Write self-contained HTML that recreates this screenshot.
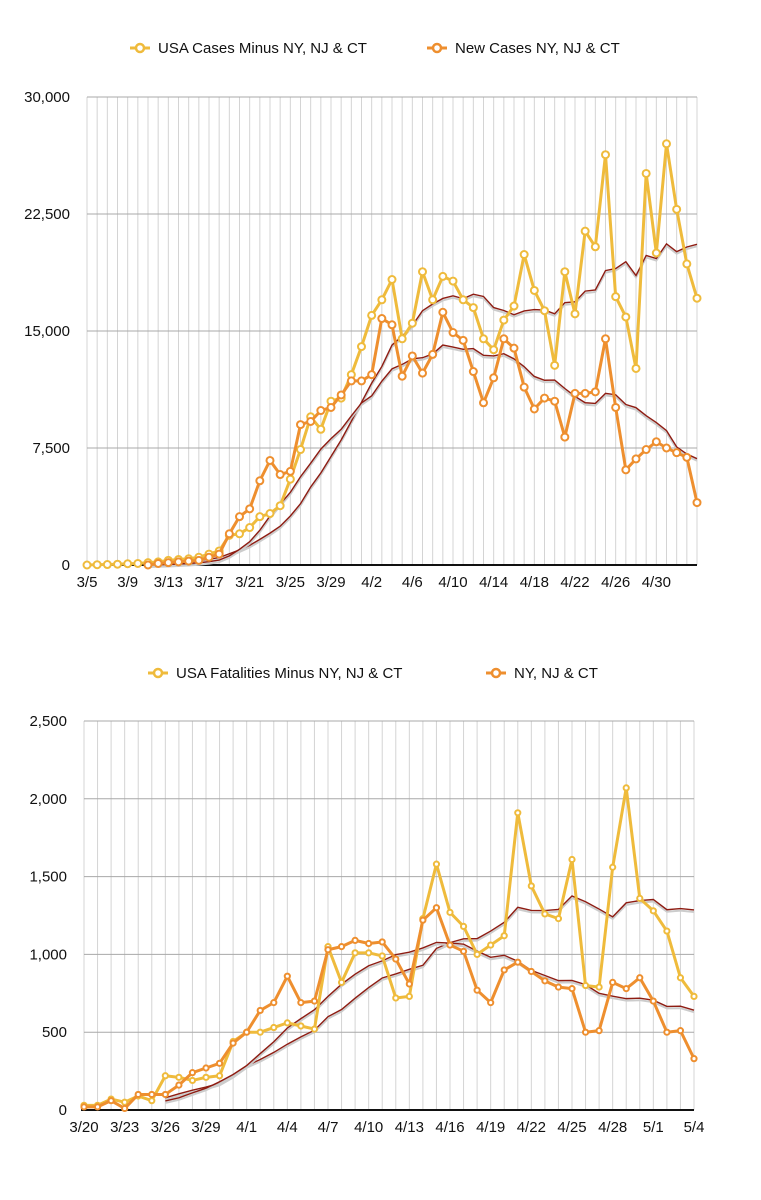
<!DOCTYPE html>
<html><head><meta charset="utf-8"><style>
body{margin:0;background:#fff;font-family:"Liberation Sans",Arial,sans-serif}
svg{display:block}
</style></head><body>
<svg id="svg" width="761" height="1200" xmlns="http://www.w3.org/2000/svg"></svg>
<script>
// ---- Chart 1 data (3/5 .. 5/4); null = no point
const c1Usa = [0,20,30,50,80,100,150,200,300,350,400,500,700,900,1900,2000,2400,3100,3300,3800,5500,7400,9500,8700,10500,10700,12200,14000,16000,17000,18300,14500,15500,18800,17000,18500,18200,17000,16500,14500,13800,15700,16600,19900,17600,16300,12800,18800,16100,21400,20400,26300,17200,15900,12600,25100,20000,27000,22800,19300,17100];
const c1Ny = [null,null,null,null,null,null,0,100,150,200,250,300,500,700,2000,3100,3600,5400,6700,5800,6000,9000,9200,9900,10100,10900,11800,11800,12200,15800,15400,12100,13400,12300,13500,16200,14900,14400,12400,10400,12000,14500,13900,11400,10000,10700,10500,8200,11000,11000,11100,14500,10100,6100,6800,7400,7900,7500,7200,6900,4000];
const c1YTicks = [0,7500,15000,22500,30000];
const c1YLabels = ["0","7,500","15,000","22,500","30,000"];
const c1XLabels = ["3/5","3/9","3/13","3/17","3/21","3/25","3/29","4/2","4/6","4/10","4/14","4/18","4/22","4/26","4/30"];
// ---- Chart 2 data (3/20 .. 5/4)
const c2Usa = [30,30,70,50,90,60,220,210,190,210,220,440,500,500,530,560,540,520,1050,820,1010,1010,990,720,730,1230,1580,1270,1180,1000,1060,1120,1910,1440,1260,1230,1610,800,790,1560,2070,1360,1280,1150,850,730];
const c2Ny = [20,20,60,10,100,100,100,160,240,270,300,430,500,640,690,860,690,700,1030,1050,1090,1070,1080,970,810,1220,1300,1060,1020,770,690,900,950,890,830,790,780,500,510,820,780,850,700,500,510,330];
const c2YTicks = [0,500,1000,1500,2000,2500];
const c2YLabels = ["0","500","1,000","1,500","2,000","2,500"];
const c2XLabels = ["3/20","3/23","3/26","3/29","4/1","4/4","4/7","4/10","4/13","4/16","4/19","4/22","4/25","4/28","5/1","5/4"];

const NS="http://www.w3.org/2000/svg";
const svg=document.getElementById('svg');
function mk(tag,attrs,parent){const e=document.createElementNS(NS,tag);for(const k in attrs)e.setAttribute(k,attrs[k]);(parent||svg).appendChild(e);return e;}
function ma(arr,startIdx){const out=[];for(let i=startIdx;i<arr.length;i++){let s=0;for(let j=i-6;j<=i;j++)s+=(arr[j]||0);out.push([i,s/7]);}return out;}

function chart(cfg){
  const g=mk('g',{});
  
  
  const n=cfg.usa.length;
  const xs=i=>cfg.x0+(cfg.x1-cfg.x0)*i/(n-1);
  const ys=v=>cfg.y0-(cfg.y0-cfg.y1)*v/cfg.ymax;
  for(let i=0;i<n;i++){const l=mk('line',{x1:xs(i),x2:xs(i),y1:cfg.y1,y2:cfg.y0,stroke:'#d4d4d4','stroke-width':1},g);
    }
  cfg.yt.forEach((t,k)=>{
    if(t>0){const l=mk('line',{x1:cfg.x0,x2:cfg.x1,y1:ys(t),y2:ys(t),stroke:'#a8a8a8','stroke-width':1},g);
    }
    const tx=mk('text',{x:cfg.x0-17,y:ys(t)+5,'text-anchor':'end','font-size':15,fill:'#111'},g);
    tx.textContent=cfg.yl[k];
    
  });
  const ax=mk('line',{x1:cfg.x0-3,x2:cfg.x1,y1:cfg.y0,y2:cfg.y0,stroke:'#111','stroke-width':2},g);
  
  cfg.xl.forEach((t,k)=>{
    const i=k*cfg.xstep;
    const tx=mk('text',{x:xs(i),y:cfg.y0+22,'text-anchor':'middle','font-size':15,fill:'#111'},g);
    tx.textContent=t;
    
  });
  [cfg.usa,cfg.ny].forEach((arr,si)=>{
    const pts=ma(arr,cfg.maStart).map(p=>xs(p[0])+','+ys(p[1])).join(' ');
    const sh=mk('polyline',{points:pts,fill:'none',stroke:'#ccc','stroke-width':2,transform:'translate(0,2)'},g);
    
    const p=mk('polyline',{points:pts,fill:'none',stroke:'#8e1c12','stroke-width':1.4},g);
    
  });
  [[cfg.usa,'#efbb3c','usa-series'],[cfg.ny,'#ee8f2f','ny-series']].forEach(([arr,col,nm])=>{
    const pts=arr.map((v,i)=>v===null?null:xs(i)+','+ys(v)).filter(s=>s).join(' ');
    const p=mk('polyline',{points:pts,fill:'none',stroke:col,'stroke-width':3,'stroke-linejoin':'round'},g);
    
    arr.forEach((v,i)=>{
      if(v===null)return;
      const c=mk('circle',{cx:xs(i),cy:ys(v),r:cfg.r,fill:'#fff',stroke:col,'stroke-width':2},g);
      
    });
  });
  cfg.leg.forEach(([lx,txt,col])=>{
    const lg=mk('g',{},g);
    
    mk('line',{x1:lx-10,x2:lx+10,y1:cfg.ly,y2:cfg.ly,stroke:col,'stroke-width':3},lg);
    mk('circle',{cx:lx,cy:cfg.ly,r:4,fill:'#fff',stroke:col,'stroke-width':2.5},lg);
    const t=mk('text',{x:lx+18,y:cfg.ly+5,'font-size':15,fill:'#111'},lg);t.textContent=txt;
  });
}
chart({name:'new-cases-chart',usa:c1Usa,ny:c1Ny,x0:87,x1:697,y0:565,y1:97,ymax:30000,yt:c1YTicks,yl:c1YLabels,xl:c1XLabels,xstep:4,maStart:6,r:3.5,ly:48,
  leg:[[140,'USA Cases Minus NY, NJ & CT','#efbb3c'],[437,'New Cases NY, NJ & CT','#ee8f2f']]});
chart({name:'fatalities-chart',usa:c2Usa,ny:c2Ny,x0:84,x1:694,y0:1110,y1:721,ymax:2500,yt:c2YTicks,yl:c2YLabels,xl:c2XLabels,xstep:3,maStart:6,r:2.6,ly:673,
  leg:[[158,'USA Fatalities Minus NY, NJ & CT','#efbb3c'],[496,'NY, NJ & CT','#ee8f2f']]});
</script>
</body></html>
